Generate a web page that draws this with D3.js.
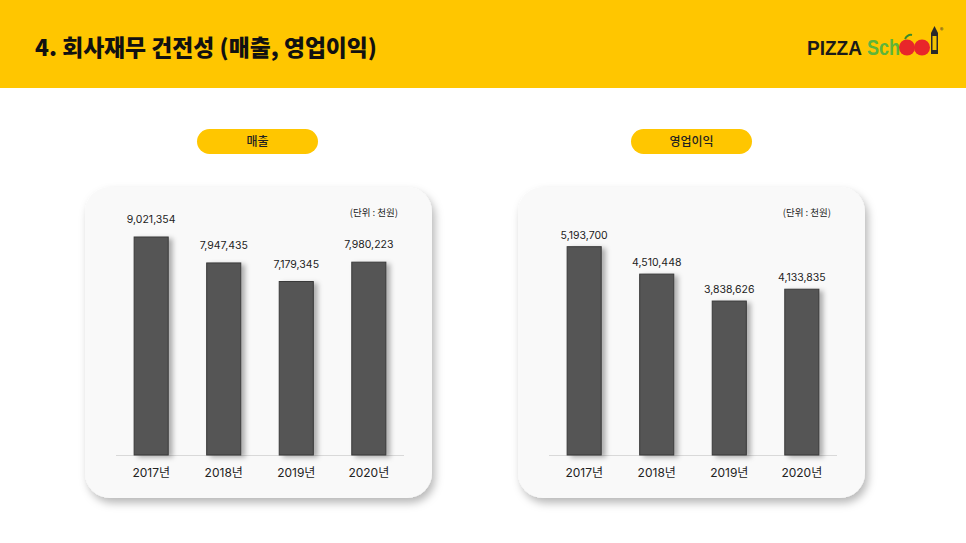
<!DOCTYPE html>
<html><head><meta charset="utf-8">
<script src="https://cdn.jsdelivr.net/npm/d3@7"></script>
<style>
html,body{margin:0;padding:0;background:#fff;}
svg{display:block;font-family:"Noto Sans CJK KR","Noto Sans",sans-serif;}
</style></head>
<body>
<svg id="c" width="966" height="543"></svg>
<script>
const years = ["2017년","2018년","2019년","2020년"];
const sales = [9021354, 7947435, 7179345, 7980223];
const profit = [5193700, 4510448, 3838626, 4133835];
const titleText = "4. 회사재무 건전성 (매출, 영업이익)";
const panelTitles = ["매출","영업이익"];
const unitText = "(단위 : 천원)";

const svg = d3.select("#c");
const defs = svg.append("defs");
const f = defs.append("filter").attr("id","pshadow").attr("x","-10%").attr("y","-10%").attr("width","125%").attr("height","125%");
f.append("feDropShadow").attr("dx",3).attr("dy",5).attr("stdDeviation",4).attr("flood-color","#000").attr("flood-opacity",0.28);
const fb = defs.append("filter").attr("id","bshadow").attr("x","-30%").attr("y","-10%").attr("width","180%").attr("height","130%");
fb.append("feDropShadow").attr("dx",4).attr("dy",2).attr("stdDeviation",2.5).attr("flood-color","#000").attr("flood-opacity",0.3);

// header
svg.append("rect").attr("x",0).attr("y",0).attr("width",966).attr("height",88).attr("fill","#FFC600");
svg.append("text").attr("x",35).attr("y",56).attr("font-size",22.5).attr("font-weight",900)
  .attr("fill","#111").attr("textLength",342).attr("lengthAdjust","spacingAndGlyphs").text(titleText);

// logo
const logo = svg.append("g");
logo.append("text").attr("x",807).attr("y",55).attr("font-family","'Liberation Sans Narrow','Liberation Sans',sans-serif")
  .attr("font-weight",700).attr("font-size",21).attr("fill","#1a1a1a").attr("textLength",55).attr("lengthAdjust","spacingAndGlyphs").text("PIZZA");
logo.append("text").attr("x",867).attr("y",55).attr("font-family","'Liberation Sans Narrow','Liberation Sans',sans-serif")
  .attr("font-weight",700).attr("font-size",22).attr("fill","#5DB53A").attr("textLength",33).attr("lengthAdjust","spacingAndGlyphs").text("Sch");
logo.append("circle").attr("cx",907).attr("cy",47.5).attr("r",8).attr("fill","#E8262A");
logo.append("circle").attr("cx",922).attr("cy",47.5).attr("r",8).attr("fill","#E8262A");
logo.append("path").attr("d","M905 39 q3 -5 7 -4").attr("stroke","#3a8a2a").attr("stroke-width",2).attr("fill","none");
logo.append("rect").attr("x",931).attr("y",33).attr("width",7).attr("height",21).attr("fill","#2a2a2a");
logo.append("rect").attr("x",932.5).attr("y",36).attr("width",4).attr("height",14).attr("fill","#F2C200");
logo.append("path").attr("d","M931 33 L934.5 26 L938 33 Z").attr("fill","#2a2a2a");
logo.append("text").attr("x",940).attr("y",33).attr("font-size",7).attr("fill","#333").text("®");

function panel(px, values, label, labelOff, pillX, topY){
  const g = svg.append("g");
  // pill
  g.append("rect").attr("x",pillX).attr("y",129).attr("width",121).attr("height",25).attr("rx",12.5).attr("fill","#FFC600");
  g.append("text").attr("x",pillX+60.5).attr("y",146).attr("text-anchor","middle").attr("font-size",12).attr("font-weight",500).attr("fill","#222").text(label);
  // card
  g.append("rect").attr("x",px).attr("y",187).attr("width",347).attr("height",311).attr("rx",25)
    .attr("fill","#f9f9f9").attr("filter","url(#pshadow)");
  g.append("text").attr("x",px+313).attr("y",216).attr("text-anchor","end").attr("font-size",9.5).attr("fill","#222").text(unitText);

  const x = d3.scaleBand().domain(years).range([px+31, px+319]).paddingInner(0.53).paddingOuter(0.25);
  const y = d3.scaleLinear().domain([0, d3.max(values)]).range([455, topY]);

  g.append("line").attr("x1",px+31).attr("x2",px+319).attr("y1",455.5).attr("y2",455.5).attr("stroke","#d9d9d9").attr("stroke-width",1);

  const data = years.map((k,i)=>({k, v: values[i]}));
  g.selectAll("rect.bar").data(data).join("rect").attr("class","bar")
    .attr("x", d=>x(d.k)).attr("width", x.bandwidth())
    .attr("y", d=>y(d.v)).attr("height", d=>455 - y(d.v))
    .attr("fill","#555555").attr("stroke","#3a3a3a").attr("stroke-width",1)
    .attr("filter","url(#bshadow)");
  g.selectAll("text.val").data(data).join("text").attr("class","val")
    .attr("x", d=>x(d.k)+x.bandwidth()/2).attr("y", d=>y(d.v)-labelOff)
    .attr("text-anchor","middle").attr("font-family","Inter,Roboto,sans-serif").attr("font-size",10.5).attr("fill","#222")
    .text(d=>d3.format(",")(d.v));
  g.selectAll("text.cat").data(data).join("text").attr("class","cat")
    .attr("x", d=>x(d.k)+x.bandwidth()/2).attr("y", 477)
    .attr("text-anchor","middle").attr("font-family","Inter,'Noto Sans CJK KR',sans-serif").attr("font-size",12).attr("fill","#222")
    .text(d=>d.k);
}
panel(85, sales, panelTitles[0], 14, 197, 237);
panel(518, profit, panelTitles[1], 8, 631, 246.7);
</script>
</body></html>
